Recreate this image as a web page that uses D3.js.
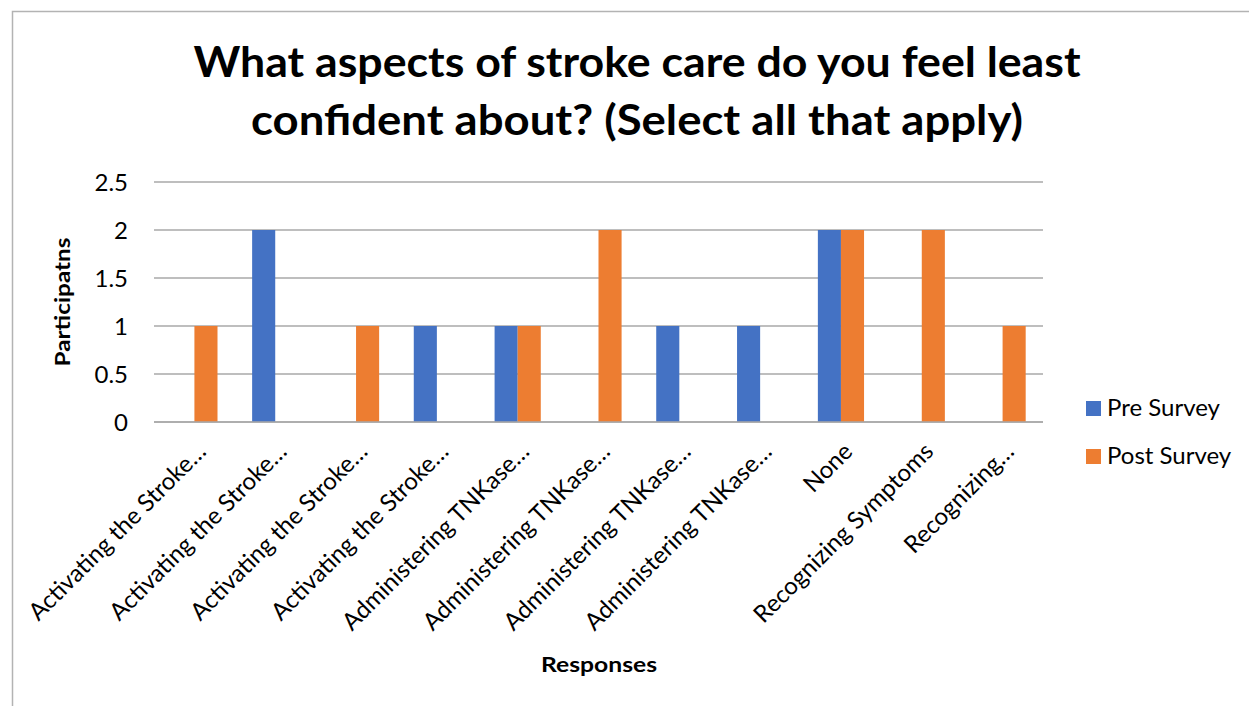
<!DOCTYPE html>
<html>
<head>
<meta charset="utf-8">
<script src="https://cdn.jsdelivr.net/npm/d3@7"></script>
<style>
  html, body { margin: 0; padding: 0; background: #fff; }
  svg { display: block; }
  text { font-family: Lato, "Open Sans", "Liberation Sans", sans-serif; fill: #000; }
</style>
</head>
<body>
<svg id="chart" width="1249" height="706"></svg>
<script>
// Survey responses: how many participants chose each option, before and after
const categories = [
  "Activating the Stroke…",
  "Activating the Stroke…",
  "Activating the Stroke…",
  "Activating the Stroke…",
  "Administering TNKase…",
  "Administering TNKase…",
  "Administering TNKase…",
  "Administering TNKase…",
  "None",
  "Recognizing Symptoms",
  "Recognizing…"
];
const preSurvey  = [0, 2, 0, 1, 1, 0, 1, 1, 2, 0, 0];
const postSurvey = [1, 0, 1, 0, 1, 2, 0, 0, 2, 2, 1];
const seriesNames = ["Pre Survey", "Post Survey"];
const seriesColors = ["#4472C4", "#ED7D31"];
const yTicks = [0, 0.5, 1, 1.5, 2, 2.5];
const titleLines = [
  "What aspects of stroke care do you feel least",
  "confident about? (Select all that apply)"
];

const svg = d3.select("#chart");
const W = 1249, H = 706;

// outer chart frame
svg.append("rect")
  .attr("x", 12.5).attr("y", 11.5)
  .attr("width", W + 20).attr("height", H + 20)
  .attr("fill", "#fff").attr("stroke", "#b3b3b3").attr("stroke-width", 1.5);

const plot = { left: 154, right: 1043, top: 182, bottom: 422 };

const idx = categories.map((_, i) => i);
const x0 = d3.scaleBand().domain(idx).range([plot.left, plot.right]).padding(0);
const x1 = d3.scaleBand().domain([0, 1]).range([0, x0.bandwidth()])
  .paddingInner(0).paddingOuter(0.75);
const y = d3.scaleLinear().domain([0, 2.5]).range([plot.bottom, plot.top]);

// horizontal gridlines
svg.append("g")
  .selectAll("line")
  .data(yTicks)
  .join("line")
  .attr("x1", plot.left).attr("x2", plot.right)
  .attr("y1", d => y(d)).attr("y2", d => y(d))
  .attr("stroke", "#a9a9a9").attr("stroke-width", 1.4);

// bars
const rows = idx.map(i => [preSurvey[i], postSurvey[i]]);
const groups = svg.append("g")
  .selectAll("g")
  .data(rows)
  .join("g")
  .attr("transform", (d, i) => `translate(${x0(i)},0)`);
groups.selectAll("rect")
  .data(d => d.map((v, s) => ({ v, s })))
  .join("rect")
  .filter(d => d.v > 0)
  .attr("x", d => x1(d.s))
  .attr("width", x1.bandwidth())
  .attr("y", d => y(d.v))
  .attr("height", d => y(0) - y(d.v))
  .attr("fill", d => seriesColors[d.s]);

// baseline drawn over bar bottoms
svg.append("line")
  .attr("x1", plot.left).attr("x2", plot.right)
  .attr("y1", y(0)).attr("y2", y(0))
  .attr("stroke", "#a9a9a9").attr("stroke-width", 1.4);

// y axis labels
const yAxis = d3.axisLeft(y).tickValues(yTicks).tickSize(0).tickPadding(0)
  .tickFormat(d3.format("~g"));
const gy = svg.append("g").attr("transform", `translate(128,0)`).call(yAxis);
gy.select(".domain").remove();
gy.selectAll("text")
  .attr("font-size", 24).attr("font-family", "Lato, sans-serif")
  .attr("dy", "0.36em").attr("fill", "#000");

// x axis labels, rotated
const xAxis = d3.axisBottom(x0).tickSize(0).tickFormat(i => categories[i]);
const gx = svg.append("g").attr("transform", `translate(0,${plot.bottom})`).call(xAxis);
gx.select(".domain").remove();
gx.selectAll(".tick text")
  .attr("font-size", 24).attr("font-family", "Lato, sans-serif").attr("fill", "#000")
  .attr("text-anchor", "end")
  .attr("y", 0).attr("dy", 0)
  .attr("transform", "translate(13,31) rotate(-45)");

// axis titles
svg.append("text")
  .attr("transform", `translate(70,302) rotate(-90)`)
  .attr("text-anchor", "middle")
  .attr("font-size", 21).attr("font-weight", 700)
  .attr("textLength", 129).attr("lengthAdjust", "spacingAndGlyphs")
  .text("Participatns");
svg.append("text")
  .attr("x", 599).attr("y", 672)
  .attr("text-anchor", "middle")
  .attr("font-size", 21).attr("font-weight", 700)
  .attr("textLength", 116).attr("lengthAdjust", "spacingAndGlyphs")
  .text("Responses");

// title
const titleWidths = [887, 772];
const titleBase = [77, 135];
titleLines.forEach((t, i) => {
  svg.append("text")
    .attr("x", 637).attr("y", titleBase[i])
    .attr("text-anchor", "middle")
    .attr("font-size", 42).attr("font-weight", 700)
    .attr("textLength", titleWidths[i]).attr("lengthAdjust", "spacingAndGlyphs")
    .text(t);
});

// legend
const legend = svg.append("g")
  .selectAll("g")
  .data(seriesNames)
  .join("g")
  .attr("transform", (d, i) => `translate(1086,${401 + i * 48})`);
legend.append("rect")
  .attr("width", 15).attr("height", 15)
  .attr("fill", (d, i) => seriesColors[i]);
legend.append("text")
  .attr("x", 21).attr("y", 15)
  .attr("font-size", 24)
  .text(d => d);
</script>
</body>
</html>
